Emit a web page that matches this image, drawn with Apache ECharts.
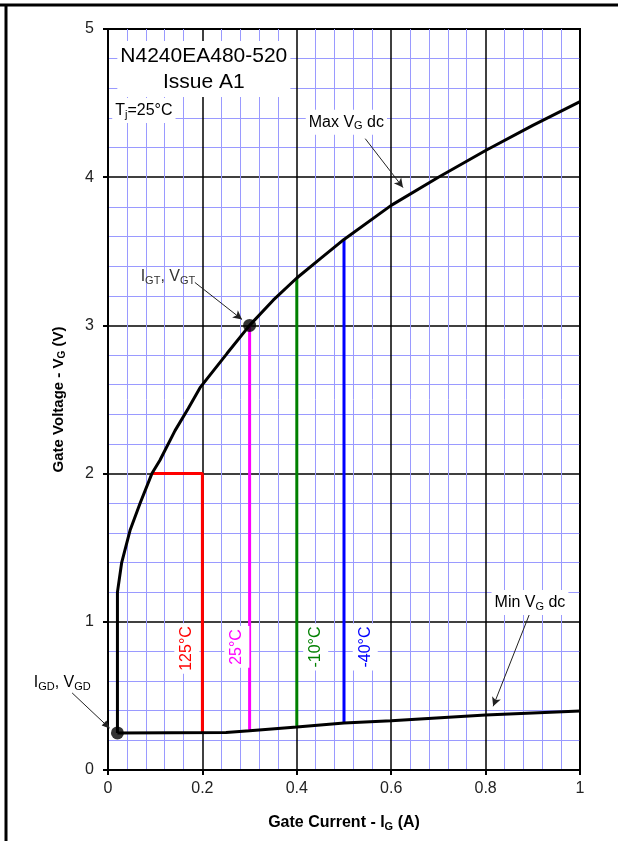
<!DOCTYPE html>
<html>
<head>
    <meta charset="utf-8">
    <title>Gate characteristics</title>
    <script src="https://cdn.jsdelivr.net/npm/echarts@6/dist/echarts.min.js"></script>
    <style>
        html, body { margin: 0; padding: 0; background: #fff; }
    </style>
</head>
<body>
    <div id="main" style="width: 618px; height: 841px;"></div>

    <script type="text/javascript">
        // values
        var xTicks = [0, 0.2, 0.4, 0.6, 0.8, 1];
        var yTicks = [0, 1, 2, 3, 4, 5];

        // max VG dc curve (includes the vertical part at IGD)
        var maxVg = [[0.02, 0.25], [0.02, 1.2], [0.029, 1.4], [0.047, 1.62], [0.068, 1.8],
            [0.093, 2.0], [0.11, 2.09], [0.142, 2.29], [0.17, 2.44], [0.195, 2.58],
            [0.252, 2.81], [0.3, 3.0], [0.35, 3.17], [0.4, 3.32], [0.45, 3.45], [0.5, 3.58],
            [0.6, 3.81], [0.7, 4.0], [0.8, 4.18], [0.9, 4.35], [1.0, 4.51]];
        // min VG dc curve
        var minVg = [[0.02, 0.25], [0.25, 0.253], [0.3, 0.265], [0.4, 0.29], [0.5, 0.317],
            [0.6, 0.333], [0.8, 0.371], [1.0, 0.398]];

        // temperature lines
        var t125 = [[0.2, 0.25], [0.2, 2.0], [0.093, 2.0]];
        var t25 = [[0.3, 0.265], [0.3, 3.0]];
        var tm10 = [[0.4, 0.29], [0.4, 3.32]];
        var tm40 = [[0.5, 0.317], [0.5, 3.58]];

        var dots = [[0.02, 0.25], [0.3, 3.0]];

        // IGD note sits left of the axis (data coords)
        var igdText = [-0.097, 0.59];
        var igdArrow = [[-0.076, 0.52], [0.004, 0.28]];

        var myChart = echarts.init(document.getElementById('main'));
        var font = 'Liberation Sans, Arial, sans-serif';

        function lineSeries(name, data, color, extra) {
            var s = {
                name: name,
                type: 'line',
                data: data,
                symbol: 'none',
                clip: false,
                lineStyle: { color: color, width: 3 },
                z: 3
            };
            for (var k in extra) s[k] = extra[k];
            return s;
        }

        var subRich = function (size, color) {
            return { s: { fontSize: size - 5, color: color, fontFamily: font, padding: [8, 0, 0, 0] } };
        };

        // text marks placed at data coordinates
        function note(coord, text, color, size, rotate, bg) {
            return {
                coord: coord,
                symbolSize: 0,
                label: {
                    show: true,
                    position: 'inside',
                    formatter: text,
                    color: color,
                    fontSize: size,
                    fontFamily: font,
                    rotate: rotate || 0,
                    backgroundColor: bg === false ? 'transparent' : '#fff',
                    padding: [2, 3],
                    lineHeight: size + 5,
                    rich: subRich(size, color)
                }
            };
        }

        function arrow(from, to) {
            return [{ coord: from, symbol: 'none' }, { coord: to, symbol: 'arrow' }];
        }

        var option = {
            animation: false,
            backgroundColor: '#fff',
            textStyle: { fontFamily: font },
            grid: {
                left: 108, right: 38, top: 29, bottom: 71,
                show: true, borderColor: '#000', borderWidth: 2
            },
            xAxis: {
                type: 'value',
                min: 0, max: 1, interval: 0.2,
                name: 'Gate Current - I{s|G} (A)',
                nameLocation: 'middle',
                nameGap: 44,
                nameTextStyle: {
                    fontSize: 16, fontWeight: 'bold', color: '#000', fontFamily: font,
                    rich: { s: { fontSize: 11, fontWeight: 'bold', padding: [7, 0, 0, 0] } }
                },
                axisLine: { lineStyle: { color: '#000', width: 2 } },
                axisTick: { show: true, length: 5, lineStyle: { color: '#000', width: 2 } },
                axisLabel: {
                    fontSize: 16, color: '#222', margin: 11,
                    formatter: function (v) { return String(+v.toFixed(1)); }
                },
                splitLine: { show: true, lineStyle: { color: '#000', width: 1.5 } },
                minorTick: { show: true, splitNumber: 5, length: 0 },
                minorSplitLine: { show: true, lineStyle: { color: '#9a9aff', width: 1 } }
            },
            yAxis: {
                type: 'value',
                min: 0, max: 5, interval: 1,
                name: 'Gate Voltage - V{s|G} (V)',
                nameLocation: 'middle',
                nameGap: 41,
                nameTextStyle: {
                    fontSize: 15, fontWeight: 'bold', color: '#000', fontFamily: font,
                    rich: { s: { fontSize: 10, fontWeight: 'bold', padding: [7, 0, 0, 0] } }
                },
                axisLine: { lineStyle: { color: '#000', width: 2 } },
                axisTick: { show: true, length: 5, lineStyle: { color: '#000', width: 2 } },
                axisLabel: { fontSize: 16, color: '#222', margin: 14 },
                splitLine: { show: true, lineStyle: { color: '#000', width: 1.5 } },
                minorTick: { show: true, splitNumber: 5, length: 0 },
                minorSplitLine: { show: true, lineStyle: { color: '#9a9aff', width: 1 } }
            },
            series: [
                lineSeries('125°C', t125, '#ff0000'),
                lineSeries('25°C', t25, '#ff00ff'),
                lineSeries('-10°C', tm10, '#008000'),
                lineSeries('-40°C', tm40, '#0000ff'),
                lineSeries('Max VG dc', maxVg, '#000', {
                    z: 4,
                    markLine: {
                        silent: true,
                        symbolSize: [7, 9],
                        lineStyle: { color: '#222', width: 1, type: 'solid' },
                        label: { show: false },
                        data: [
                            arrow([0.545, 4.26], [0.625, 3.93]),
                            arrow([0.184, 3.29], [0.284, 3.04]),
                            arrow([0.894, 1.06], [0.816, 0.43])
                        ]
                    },
                    markPoint: {
                        silent: true,
                        symbol: 'circle',
                        data: [
                            note([0.203, 4.73], 'N4240EA480-520\nIssue A1', '#000', 21, 0),
                            note([0.076, 4.45], 'T{s|j}=25°C', '#000', 16, 0),
                            note([0.505, 4.37], 'Max V{s|G} dc', '#000', 16, 0),
                            note([0.127, 3.33], 'I{s|GT}, V{s|GT}', '#333', 16, 0, false),
                            note([0.894, 1.13], 'Min V{s|G} dc', '#000', 16, 0),
                            note([0.167, 0.82], '125°C', '#ff0000', 16, 90),
                            note([0.273, 0.83], '25°C', '#ff00ff', 16, 90),
                            note([0.44, 0.83], '-10°C', '#008000', 16, 90),
                            note([0.545, 0.83], '-40°C', '#0000ff', 16, 90)
                        ]
                    }
                }),
                lineSeries('Min VG dc', minVg, '#000', { z: 4 }),
                {
                    name: 'points',
                    type: 'scatter',
                    data: dots,
                    symbolSize: 13,
                    itemStyle: { color: '#000' },
                    z: 5
                }
            ]
        };

        myChart.setOption(option);

        // the IGD note lies outside the plot, so place it through the axes' scale
        var p = myChart.convertToPixel({ gridIndex: 0 }, igdText);
        var a0 = myChart.convertToPixel({ gridIndex: 0 }, igdArrow[0]);
        var a1 = myChart.convertToPixel({ gridIndex: 0 }, igdArrow[1]);
        var ang = Math.atan2(a1[1] - a0[1], a1[0] - a0[0]);
        var hl = 8, hw = 3.5;
        var bx = a1[0] - hl * Math.cos(ang), by = a1[1] - hl * Math.sin(ang);
        var nx = -Math.sin(ang) * hw, ny = Math.cos(ang) * hw;
        myChart.setOption({
            graphic: [
                // page frame
                { type: 'line', shape: { x1: 0, y1: 5, x2: 618, y2: 5 }, style: { stroke: '#000', lineWidth: 3 } },
                { type: 'line', shape: { x1: 6, y1: 5, x2: 6, y2: 841 }, style: { stroke: '#000', lineWidth: 3 } },
                {
                    type: 'text', x: p[0], y: p[1], z: 10,
                    style: {
                        text: 'I{s|GD}, V{s|GD}', fontSize: 16, fontFamily: font, fill: '#000',
                        align: 'center', verticalAlign: 'middle', rich: subRich(16, '#000')
                    }
                },
                { type: 'line', z: 10, shape: { x1: a0[0], y1: a0[1], x2: bx, y2: by }, style: { stroke: '#222', lineWidth: 1 } },
                {
                    type: 'polygon', z: 10,
                    shape: { points: [[a1[0], a1[1]], [bx + nx, by + ny], [bx - nx, by - ny]] },
                    style: { fill: '#222' }
                }
            ]
        });
    </script>
</body>
</html>
